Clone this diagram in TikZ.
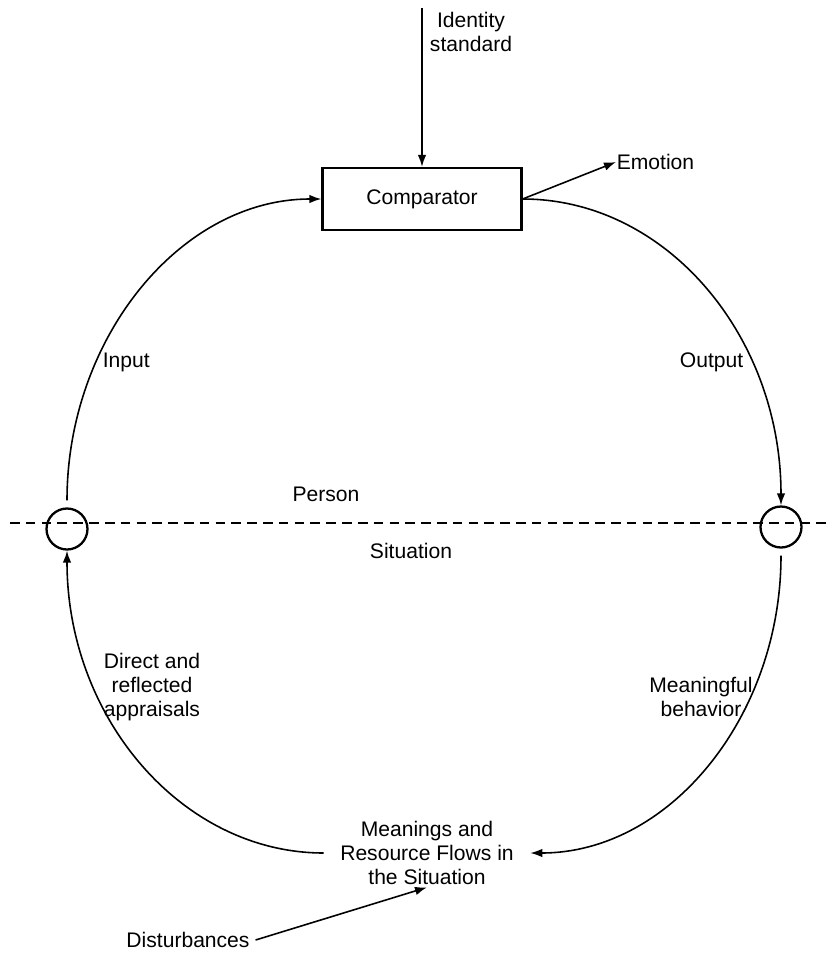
\documentclass[tikz,border=0pt]{standalone}
\usepackage{fontspec}
\setmainfont{Liberation Sans}
\usetikzlibrary{arrows.meta}
\tikzstyle{sum state}=[
        draw = black,
        line width = 1.3pt,
        minimum size = 0.82cm,
        inner sep = 0pt,
        circle
    ]
\tikzstyle{comp state}=[
    draw = black,
    line width = 1.3pt,
    minimum width = 3.98cm,
    minimum height = 1.24cm,
    rectangle
]
\tikzstyle{lbl}=[
    inner sep = 0pt,
    font = \fontsize{12}{13.7}\selectfont
]
\tikzstyle{arr}=[
    -{Latex[length=2.4mm,width=1.7mm]},
    line width = 0.9pt
]

\begin{document}
\begin{tikzpicture}[x=0.02cm, y=-0.02cm, line width=0.9pt]
        \useasboundingbox (0,0) rectangle (828,954);

        \node[comp state, font=\fontsize{12}{13.7}\selectfont] (comp) at (422,199) {Comparator};
        \node[sum state] (lc) at (67,529) {};
        \node[sum state] (rc) at (781,527) {};
        \node[lbl, align=center, inner xsep=9pt, inner ysep=1pt] (mean) at (427,853) {Meanings and\\Resource Flows in\\the Situation};
        \node[lbl, inner sep=3pt] (dist) at (188,940) {Disturbances};
        \node[lbl, anchor=west] (emo) at (616,162) {Emotion};
        \node[lbl, align=center] (ids) at (471,32) {Identity\\standard};
        \coordinate (idtop) at (422,8);
        \coordinate (dl) at (10,523);
        \coordinate (dr) at (828,523);

        % person / situation boundary
        \draw[dash pattern=on 5.5pt off 3.5pt, line width=1pt] (dl) -- (dr);
        \node[lbl] (pers) at (326,494) {Person};
        \node[lbl] (sit) at (411,551) {Situation};

        % upper loop
        \draw[arr] (idtop) -- (comp.north);
        \draw[arr] (comp.east) -- (emo.west);
        \draw[arr, shorten <=4pt] (lc.north) .. controls +(0,-169) and +(-141,0) .. (comp.west);
        \draw[arr] (comp.east) .. controls +(144,0) and +(0,-169) .. (rc.north);
        \node[lbl, anchor=west] (inp) at (102,362) {Input};
        \node[lbl, anchor=east] (outp) at (744,362) {Output};

        % lower loop
        \draw[arr] (mean.west) .. controls +(-141,0) and +(0,168) .. (lc.south);
        \draw[arr, shorten <=4pt] (rc.south) .. controls +(0,167) and +(140,0) .. (mean.east);
        \draw[arr] (dist.east) -- (mean.south);
        \node[lbl, align=center] (app) at (152,687) {Direct and\\reflected\\appraisals};
        \node[lbl, align=center] (beh) at (701,697) {Meaningful\\behavior};

    \end{tikzpicture}
\end{document}
